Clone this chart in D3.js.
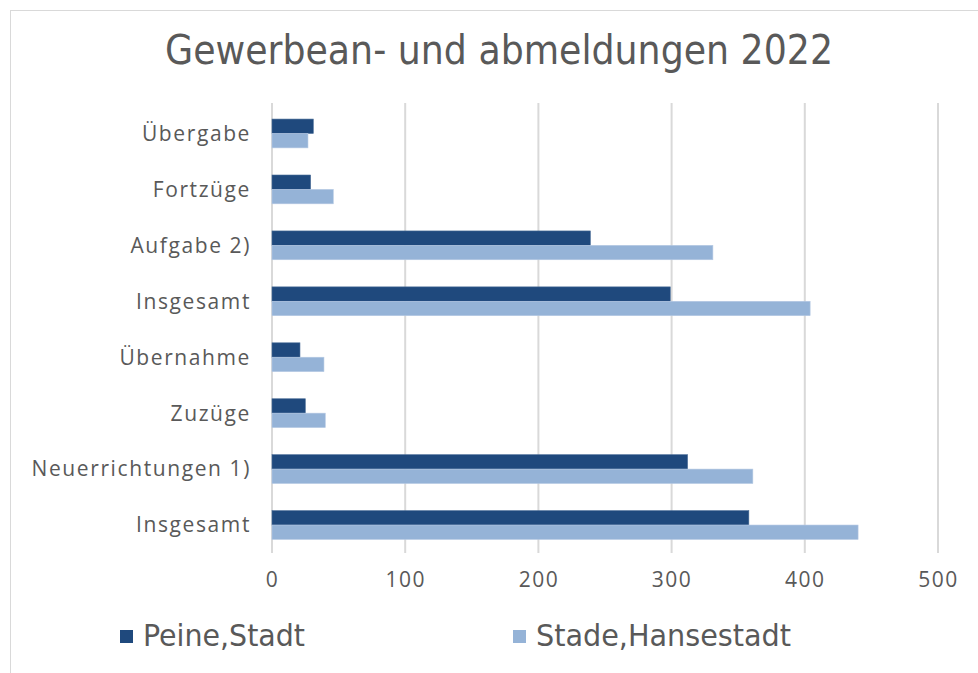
<!DOCTYPE html>
<html><head><meta charset="utf-8">
<script src="https://cdn.jsdelivr.net/npm/d3@7"></script>
<style>body{margin:0;background:#fff}svg{display:block}</style>
</head><body>
<script>
const categories = ["Übergabe","Fortzüge","Aufgabe 2)","Insgesamt","Übernahme","Zuzüge","Neuerrichtungen 1)","Insgesamt"];
const peine = [31, 29, 239, 299, 21, 25, 312, 358];
const stade = [27, 46, 331, 404, 39, 40, 361, 440];
const seriesNames = ["Peine,Stadt","Stade,Hansestadt"];
const colors = ["#1F497D","#95B3D7"];
const ticks = [0,100,200,300,400,500];

const W=978,H=673;
const svg=d3.select("body").append("svg").attr("width",W).attr("height",H);
svg.append("rect").attr("x",10.5).attr("y",10.5).attr("width",W).attr("height",H).attr("fill","#fff").attr("stroke","#d9d9d9");

const x=d3.scaleLinear().domain([0,500]).range([272,938]);
const y=d3.scaleBand().domain(d3.range(categories.length)).range([105.5,553]).paddingInner(0.485).paddingOuter(0.2425);
const inner=d3.scaleBand().domain([0,1]).range([0,y.bandwidth()]);

svg.append("g").selectAll("line").data(ticks).join("line")
  .attr("x1",d=>x(d)).attr("x2",d=>x(d)).attr("y1",103).attr("y2",553)
  .attr("stroke","#d9d9d9").attr("stroke-width",2);

const data=categories.map((c,i)=>({i,vals:[peine[i],stade[i]]}));
const g=svg.append("g");
data.forEach(d=>{
  d.vals.forEach((v,s)=>{
    g.append("rect").attr("x",x(0)).attr("y",y(d.i)+inner(s)).attr("width",x(v)-x(0)).attr("height",inner.bandwidth())
     .attr("fill",colors[s]).attr("stroke",s===0?"#4a6d97":"#b5c9e3").attr("stroke-width",0.6);
  });
});

const font="'Open Sans', sans-serif";
svg.append("g").selectAll("text").data(categories).join("text")
  .attr("x",251).attr("y",(d,i)=>y(i)+y.bandwidth()/2).attr("dy","0.35em")
  .attr("text-anchor","end").attr("font-family",font).attr("font-size",21).attr("letter-spacing",1.6).attr("fill","#595959").text(d=>d);

const xAxis=d3.axisBottom(x).tickValues(ticks).tickSize(0).tickPadding(0);
const ax=svg.append("g").attr("transform","translate(0,572)").call(xAxis);
ax.select(".domain").remove();
ax.selectAll("text").attr("font-family",font).attr("font-size",21).attr("letter-spacing",1.5).attr("fill","#595959").attr("dy","0.71em");

svg.append("text").attr("x",499).attr("y",64).attr("text-anchor","middle")
  .attr("font-family","'Liberation Sans Narrow','DejaVu Sans Condensed',sans-serif").attr("font-size",40).attr("fill","#595959")
  .attr("textLength",668).attr("lengthAdjust","spacingAndGlyphs").text("Gewerbean- und abmeldungen 2022");

const legX=[120,513], legW=[162,255];
seriesNames.forEach((n,s)=>{
  svg.append("rect").attr("x",legX[s]).attr("y",630).attr("width",13).attr("height",13).attr("fill",colors[s]);
  svg.append("text").attr("x",legX[s]+23).attr("y",646).attr("font-family","'Liberation Sans Narrow','DejaVu Sans Condensed',sans-serif")
    .attr("font-size",30).attr("fill","#595959").attr("textLength",legW[s]).attr("lengthAdjust","spacingAndGlyphs").text(n);
});
</script>
</body></html>
